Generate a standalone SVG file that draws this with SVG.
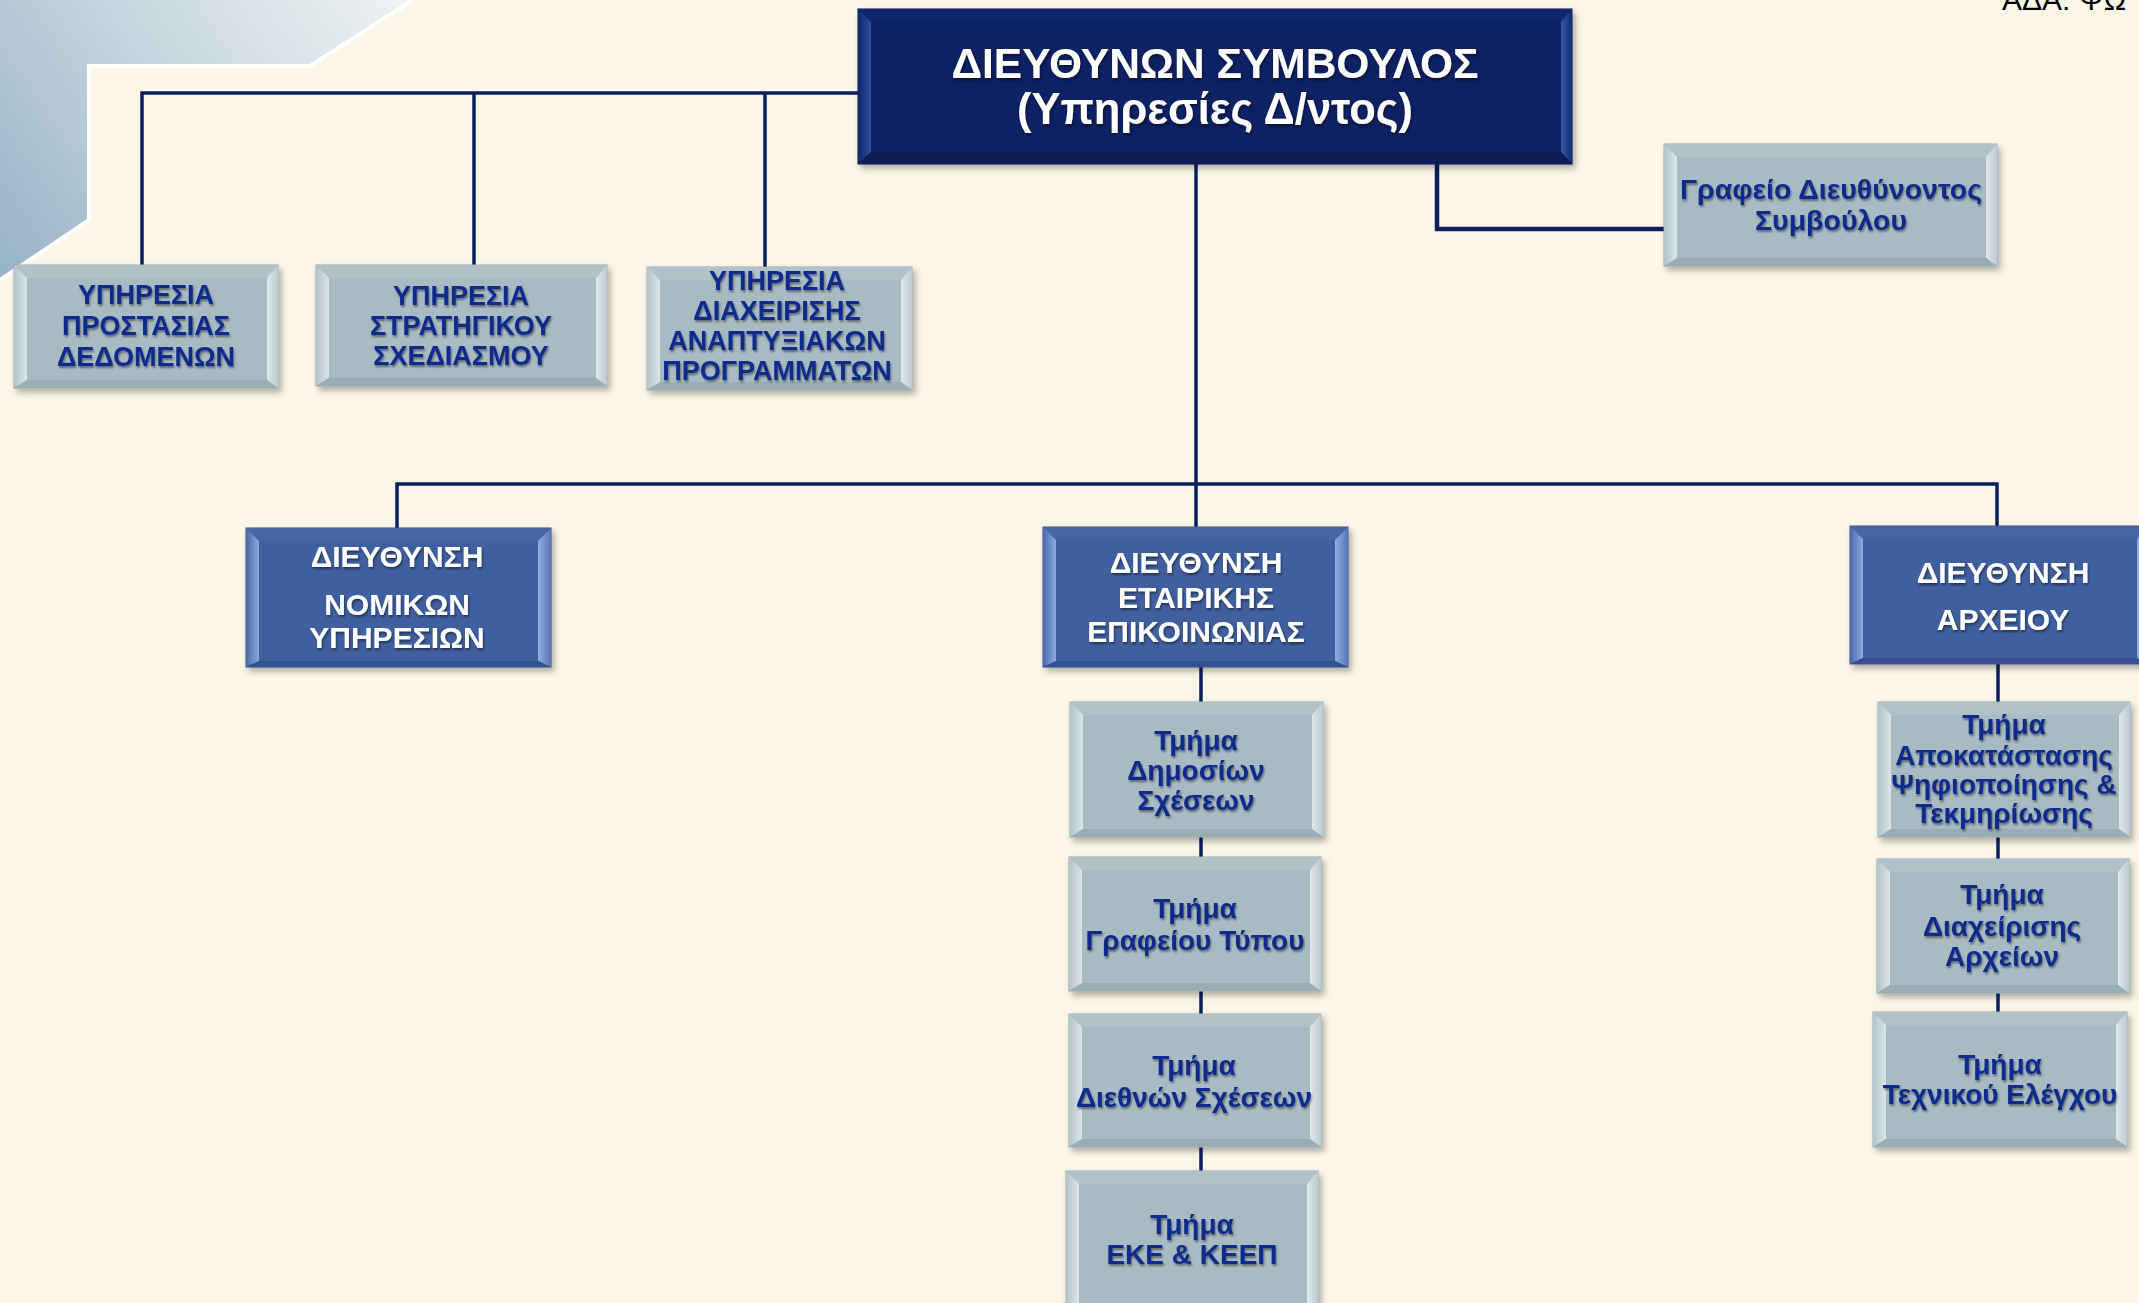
<svg xmlns="http://www.w3.org/2000/svg" width="2139" height="1303" viewBox="0 0 2139 1303">
<defs>
<style>
text{font-family:"Liberation Sans",Arial,sans-serif;font-weight:bold;text-anchor:middle}
.tn{fill:#0F2B8C;font-size:27px;filter:url(#tsh)}
.tl{fill:#0F2B8C;font-size:28px;filter:url(#tsh)}
.tw{fill:#FFFFFF;font-size:30px;filter:url(#tsh)}
.tc{fill:#FFFFFF;font-size:42.5px;filter:url(#tsh)}
.ada{fill:#000;font-weight:normal;font-size:30px;text-anchor:start}
.g .f{fill:#A9BBC2;stroke:#95A7AE;stroke-width:1}
.g .t{fill:#B0C1C7}.g .b{fill:#9AADB4}.g .l{fill:url(#gL)}.g .r{fill:url(#gR)}
.d .f{fill:#405E9E;stroke:#34508A;stroke-width:1}
.d .t{fill:#4765A6}.d .b{fill:#36518D}.d .l{fill:url(#dL)}.d .r{fill:url(#dR)}
.c .f{fill:#0B2062;stroke:#07164A;stroke-width:1}
.c .t{fill:#0F276C}.c .b{fill:#081A52}.c .l{fill:url(#cL)}.c .r{fill:url(#cR)}
.box{filter:url(#bsh)}
.conn path{fill:none;stroke:#0B1F5C;stroke-width:3.5}
</style>
<linearGradient id="bgTL" gradientUnits="userSpaceOnUse" x1="400" y1="0" x2="0" y2="280">
<stop offset="0" stop-color="#EEF2F3"/><stop offset="0.5" stop-color="#C6D5DE"/><stop offset="1" stop-color="#97B2C6"/>
</linearGradient>
<linearGradient id="gL" x1="0" y1="0" x2="1" y2="0"><stop offset="0" stop-color="#B3C3C9"/><stop offset="1" stop-color="#DCE5E8"/></linearGradient>
<linearGradient id="gR" x1="0" y1="0" x2="1" y2="0"><stop offset="0" stop-color="#E0E8EA"/><stop offset="1" stop-color="#BCCAD0"/></linearGradient>
<linearGradient id="dL" x1="0" y1="0" x2="1" y2="0"><stop offset="0" stop-color="#4A69AA"/><stop offset="1" stop-color="#8CAADF"/></linearGradient>
<linearGradient id="dR" x1="0" y1="0" x2="1" y2="0"><stop offset="0" stop-color="#8FAEE2"/><stop offset="1" stop-color="#5776B6"/></linearGradient>
<linearGradient id="cL" x1="0" y1="0" x2="1" y2="0"><stop offset="0" stop-color="#0D2468"/><stop offset="1" stop-color="#3050A0"/></linearGradient>
<linearGradient id="cR" x1="0" y1="0" x2="1" y2="0"><stop offset="0" stop-color="#3557A8"/><stop offset="1" stop-color="#142B72"/></linearGradient>
<filter id="bsh" x="-10%" y="-10%" width="125%" height="130%"><feDropShadow dx="3" dy="4" stdDeviation="3" flood-color="#000" flood-opacity="0.3"/></filter>
<filter id="tsh" x="-10%" y="-30%" width="120%" height="160%"><feDropShadow dx="1" dy="2" stdDeviation="1.3" flood-color="#000" flood-opacity="0.45"/></filter>
</defs>

<rect x="0" y="0" width="2139" height="1303" fill="#FCF6E8"/>
<polygon points="0,0 413,0 310,66 89,66 89,220 0,280" fill="url(#bgTL)"/>
<polyline points="413,0 310,66 89,66 89,220 0,280" fill="none" stroke="#FFFFFF" stroke-width="4"/>
<text class="ada" x="2002" y="10">ΑΔΑ: ΨΩ</text>

<g id="connectors" class="conn">
<path d="M858 93 H142 V265 M474 93 V265 M765 93 V267"/>
<path d="M1196 164 V528"/>
<path d="M397 528 V484 H1997 V526"/>
<path d="M1437 164 V229 H1664" style="stroke-width:4.5"/>
<path d="M1201 667 V1171"/>
<path d="M1998 664 V1012"/>
</g>

<g id="ceo" class="box c">
<rect class="f" x="858" y="9" width="714" height="155"/>
<polygon class="t" points="858,9 1572,9 1561,22 871,22"/>
<polygon class="l" points="858,9 871,22 871,152 858,164"/>
<polygon class="r" points="1572,9 1572,164 1561,152 1561,22"/>
<polygon class="b" points="858,164 871,152 1561,152 1572,164"/>
<text class="tc" x="1215" y="78">ΔΙΕΥΘΥΝΩΝ ΣΥΜΒΟΥΛΟΣ</text>
<text class="tc" x="1215" y="124" style="font-size:43.5px">(Υπηρεσίες Δ/ντος)</text>
</g>

<g id="ypiresia-prostasias" class="box g">
<rect class="f" x="14" y="265" width="264" height="123"/>
<polygon class="t" points="14,265 278,265 267,278 27,278"/>
<polygon class="l" points="14,265 27,278 27,380 14,388"/>
<polygon class="r" points="278,265 278,388 267,380 267,278"/>
<polygon class="b" points="14,388 27,380 267,380 278,388"/>
<text class="tn" x="146" y="304">ΥΠΗΡΕΣΙΑ</text>
<text class="tn" x="146" y="335">ΠΡΟΣΤΑΣΙΑΣ</text>
<text class="tn" x="146" y="366">ΔΕΔΟΜΕΝΩΝ</text>
</g>

<g id="ypiresia-stratigikou" class="box g">
<rect class="f" x="316" y="265" width="291" height="121"/>
<polygon class="t" points="316,265 607,265 596,278 329,278"/>
<polygon class="l" points="316,265 329,278 329,378 316,386"/>
<polygon class="r" points="607,265 607,386 596,378 596,278"/>
<polygon class="b" points="316,386 329,378 596,378 607,386"/>
<text class="tn" x="461" y="305">ΥΠΗΡΕΣΙΑ</text>
<text class="tn" x="461" y="335">ΣΤΡΑΤΗΓΙΚΟΥ</text>
<text class="tn" x="461" y="365">ΣΧΕΔΙΑΣΜΟΥ</text>
</g>

<g id="ypiresia-diaxeirisis" class="box g">
<rect class="f" x="647" y="267" width="265" height="123"/>
<polygon class="t" points="647,267 912,267 901,280 660,280"/>
<polygon class="l" points="647,267 660,280 660,382 647,390"/>
<polygon class="r" points="912,267 912,390 901,382 901,280"/>
<polygon class="b" points="647,390 660,382 901,382 912,390"/>
<text class="tn" x="777" y="290">ΥΠΗΡΕΣΙΑ</text>
<text class="tn" x="777" y="320">ΔΙΑΧΕΙΡΙΣΗΣ</text>
<text class="tn" x="777" y="350">ΑΝΑΠΤΥΞΙΑΚΩΝ</text>
<text class="tn" x="777" y="380">ΠΡΟΓΡΑΜΜΑΤΩΝ</text>
</g>

<g id="grafeio-dnt" class="box g">
<rect class="f" x="1664" y="144" width="333" height="122"/>
<polygon class="t" points="1664,144 1997,144 1986,157 1677,157"/>
<polygon class="l" points="1664,144 1677,157 1677,258 1664,266"/>
<polygon class="r" points="1997,144 1997,266 1986,258 1986,157"/>
<polygon class="b" points="1664,266 1677,258 1986,258 1997,266"/>
<text class="tl" x="1831" y="199" style="font-size:28.5px">Γραφείο Διευθύνοντος</text>
<text class="tl" x="1831" y="230" style="font-size:28.5px">Συμβούλου</text>
</g>

<g id="dieuthynsi-nomikon" class="box d">
<rect class="f" x="246" y="528" width="305" height="139"/>
<polygon class="t" points="246,528 551,528 538,541 259,541"/>
<polygon class="l" points="246,528 259,541 259,661 246,667"/>
<polygon class="r" points="551,528 551,667 538,661 538,541"/>
<polygon class="b" points="246,667 259,661 538,661 551,667"/>
<text class="tw" x="397" y="567">ΔΙΕΥΘΥΝΣΗ</text>
<text class="tw" x="397" y="615">ΝΟΜΙΚΩΝ</text>
<text class="tw" x="397" y="648">ΥΠΗΡΕΣΙΩΝ</text>
</g>

<g id="dieuthynsi-etairikis" class="box d">
<rect class="f" x="1043" y="527" width="305" height="140"/>
<polygon class="t" points="1043,527 1348,527 1335,540 1056,540"/>
<polygon class="l" points="1043,527 1056,540 1056,661 1043,667"/>
<polygon class="r" points="1348,527 1348,667 1335,661 1335,540"/>
<polygon class="b" points="1043,667 1056,661 1335,661 1348,667"/>
<text class="tw" x="1196" y="573">ΔΙΕΥΘΥΝΣΗ</text>
<text class="tw" x="1196" y="608">ΕΤΑΙΡΙΚΗΣ</text>
<text class="tw" x="1196" y="642">ΕΠΙΚΟΙΝΩΝΙΑΣ</text>
</g>

<g id="dieuthynsi-arxeiou" class="box d">
<rect class="f" x="1850" y="526" width="300" height="138"/>
<polygon class="t" points="1850,526 2150,526 2137,539 1863,539"/>
<polygon class="l" points="1850,526 1863,539 1863,658 1850,664"/>
<polygon class="r" points="2150,526 2150,664 2137,658 2137,539"/>
<polygon class="b" points="1850,664 1863,658 2137,658 2150,664"/>
<text class="tw" x="2003" y="583">ΔΙΕΥΘΥΝΣΗ</text>
<text class="tw" x="2003" y="630">ΑΡΧΕΙΟΥ</text>
</g>

<g id="tmima-dimosion" class="box g">
<rect class="f" x="1070" y="702" width="253" height="135"/>
<polygon class="t" points="1070,702 1323,702 1312,715 1083,715"/>
<polygon class="l" points="1070,702 1083,715 1083,829 1070,837"/>
<polygon class="r" points="1323,702 1323,837 1312,829 1312,715"/>
<polygon class="b" points="1070,837 1083,829 1312,829 1323,837"/>
<text class="tl" x="1196" y="750">Τμήμα</text>
<text class="tl" x="1196" y="780">Δημοσίων</text>
<text class="tl" x="1196" y="810">Σχέσεων</text>
</g>

<g id="tmima-grafeiou" class="box g">
<rect class="f" x="1069" y="857" width="252" height="134"/>
<polygon class="t" points="1069,857 1321,857 1310,870 1082,870"/>
<polygon class="l" points="1069,857 1082,870 1082,983 1069,991"/>
<polygon class="r" points="1321,857 1321,991 1310,983 1310,870"/>
<polygon class="b" points="1069,991 1082,983 1310,983 1321,991"/>
<text class="tl" x="1195" y="918">Τμήμα</text>
<text class="tl" x="1195" y="950">Γραφείου Τύπου</text>
</g>

<g id="tmima-diethnon" class="box g">
<rect class="f" x="1069" y="1014" width="252" height="133"/>
<polygon class="t" points="1069,1014 1321,1014 1310,1027 1082,1027"/>
<polygon class="l" points="1069,1014 1082,1027 1082,1139 1069,1147"/>
<polygon class="r" points="1321,1014 1321,1147 1310,1139 1310,1027"/>
<polygon class="b" points="1069,1147 1082,1139 1310,1139 1321,1147"/>
<text class="tl" x="1194" y="1075">Τμήμα</text>
<text class="tl" x="1194" y="1107">Διεθνών Σχέσεων</text>
</g>

<g id="tmima-eke" class="box g">
<rect class="f" x="1066" y="1171" width="252" height="140"/>
<polygon class="t" points="1066,1171 1318,1171 1307,1184 1079,1184"/>
<polygon class="l" points="1066,1171 1079,1184 1079,1303 1066,1311"/>
<polygon class="r" points="1318,1171 1318,1311 1307,1303 1307,1184"/>
<text class="tl" x="1192" y="1234">Τμήμα</text>
<text class="tl" x="1192" y="1264">ΕΚΕ &amp; ΚΕΕΠ</text>
</g>

<g id="tmima-apokatastasis" class="box g">
<rect class="f" x="1878" y="702" width="252" height="135"/>
<polygon class="t" points="1878,702 2130,702 2119,715 1891,715"/>
<polygon class="l" points="1878,702 1891,715 1891,829 1878,837"/>
<polygon class="r" points="2130,702 2130,837 2119,829 2119,715"/>
<polygon class="b" points="1878,837 1891,829 2119,829 2130,837"/>
<text class="tl" x="2004" y="734">Τμήμα</text>
<text class="tl" x="2004" y="765">Αποκατάστασης</text>
<text class="tl" x="2004" y="794">Ψηφιοποίησης &amp;</text>
<text class="tl" x="2004" y="823">Τεκμηρίωσης</text>
</g>

<g id="tmima-diaxeirisis" class="box g">
<rect class="f" x="1877" y="859" width="252" height="134"/>
<polygon class="t" points="1877,859 2129,859 2118,872 1890,872"/>
<polygon class="l" points="1877,859 1890,872 1890,985 1877,993"/>
<polygon class="r" points="2129,859 2129,993 2118,985 2118,872"/>
<polygon class="b" points="1877,993 1890,985 2118,985 2129,993"/>
<text class="tl" x="2002" y="904">Τμήμα</text>
<text class="tl" x="2002" y="936">Διαχείρισης</text>
<text class="tl" x="2002" y="966">Αρχείων</text>
</g>

<g id="tmima-texnikou" class="box g">
<rect class="f" x="1873" y="1012" width="254" height="135"/>
<polygon class="t" points="1873,1012 2127,1012 2116,1025 1886,1025"/>
<polygon class="l" points="1873,1012 1886,1025 1886,1139 1873,1147"/>
<polygon class="r" points="2127,1012 2127,1147 2116,1139 2116,1025"/>
<polygon class="b" points="1873,1147 1886,1139 2116,1139 2127,1147"/>
<text class="tl" x="2000" y="1074">Τμήμα</text>
<text class="tl" x="2000" y="1104">Τεχνικού Ελέγχου</text>
</g>
</svg>
